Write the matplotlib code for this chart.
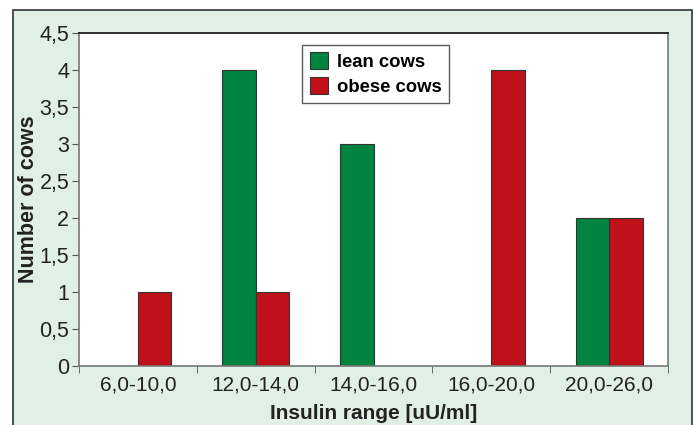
import matplotlib
matplotlib.use("Agg")
import matplotlib.pyplot as plt
from matplotlib.patches import Rectangle
import numpy as np

plt.rcParams['font.family'] = ['Liberation Sans', 'DejaVu Sans']

# Data
categories = ["6,0-10,0", "12,0-14,0", "14,0-16,0", "16,0-20,0", "20,0-26,0"]
lean_cows = [0, 4, 3, 0, 2]
obese_cows = [1, 1, 0, 4, 2]
y_ticks = [0, 0.5, 1, 1.5, 2, 2.5, 3, 3.5, 4, 4.5]

green = "#00843f"
red = "#c0111a"
bg = "#e0f0e5"

fig = plt.figure(figsize=(6.95, 4.25), dpi=100)

# pale green panel with dark frame (bottom edge runs off the image)
frame = Rectangle((13 / 695, -0.05), (692 - 13) / 695, 1.05 - 10 / 425,
                  transform=fig.transFigure, facecolor=bg, edgecolor="#333333",
                  linewidth=1.2, zorder=-10)
fig.patches.append(frame)

ax = fig.add_axes([79 / 695, 59 / 425, 589 / 695, 333 / 425])
ax.set_facecolor("white")

x = np.arange(len(categories)) + 0.5
w = 0.285
ax.bar(x - w / 2, lean_cows, w, color=green, edgecolor="#333333", linewidth=0.8,
       label="lean cows", zorder=2)
ax.bar(x + w / 2, obese_cows, w, color=red, edgecolor="#333333", linewidth=0.8,
       label="obese cows", zorder=2)

ax.set_xlim(0, len(categories))
ax.set_ylim(0, 4.5)

ax.set_xticks(x)
ax.set_xticklabels(categories, fontsize=15, color="#222222")
ax.set_xticks(np.arange(len(categories) + 1), minor=True)
ax.tick_params(axis="x", which="major", length=0, pad=7)
ax.tick_params(axis="x", which="minor", length=5, direction="out", color="#555555")

ax.set_yticks(y_ticks)
ax.set_yticklabels([("%g" % v).replace(".", ",") for v in y_ticks],
                   fontsize=15.5, color="#222222")
ax.tick_params(axis="y", length=5, direction="out", color="#555555", pad=2)

for side in ["left", "bottom", "right"]:
    ax.spines[side].set_color("#777777")
    ax.spines[side].set_linewidth(1.2)
ax.spines["top"].set_color("#111111")
ax.spines["top"].set_linewidth(1.2)

ax.set_xlabel("Insulin range [uU/ml]", fontsize=15, fontweight="bold",
              color="#222222", labelpad=7)
ax.set_ylabel("Number of cows", fontsize=15.5, fontweight="bold",
              color="#222222", labelpad=0.5)

leg = ax.legend(loc="upper left", bbox_to_anchor=(0.379, 0.965),
                prop={"weight": "bold", "size": 13.3}, frameon=True,
                fancybox=False, borderpad=0.4, handlelength=1.0,
                handleheight=1.0, handletextpad=0.5, labelspacing=0.35,
                borderaxespad=0)
leg.get_frame().set_edgecolor("#333333")
leg.get_frame().set_linewidth(1.0)

fig.savefig("out.png", dpi=100)
